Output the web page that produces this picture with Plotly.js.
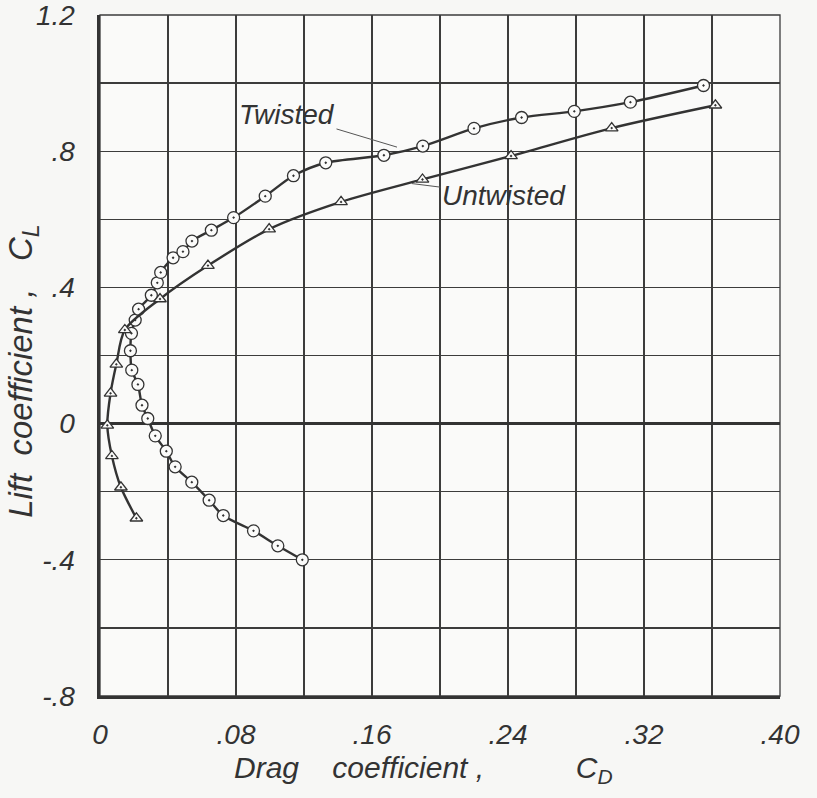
<!DOCTYPE html>
<html>
<head>
<meta charset="utf-8">
<script src="https://cdn.plot.ly/plotly-3.0.1.min.js"></script>
<style>
  html, body { margin: 0; padding: 0; background: #f7f7f5; }
  #chart { width: 817px; height: 798px; }
</style>
</head>
<body>
<div id="chart"></div>
<script>
// Lift versus drag polars for a twisted and an untwisted wing
const twistedCD = [0.119, 0.1046, 0.0903, 0.0725, 0.0642, 0.054, 0.0442, 0.039, 0.0325, 0.0281,
                   0.0247, 0.0223, 0.0187, 0.0179, 0.0185, 0.0207, 0.0227, 0.0302, 0.0337, 0.0357,
                   0.043, 0.0488, 0.0541, 0.0655, 0.0786, 0.0972, 0.1138, 0.1328, 0.167, 0.1899,
                   0.220, 0.248, 0.279, 0.312, 0.355];
const twistedCL = [-0.40, -0.359, -0.315, -0.270, -0.225, -0.172, -0.127, -0.081, -0.036, 0.015,
                   0.054, 0.115, 0.157, 0.214, 0.265, 0.304, 0.336, 0.377, 0.4135, 0.444,
                   0.487, 0.505, 0.536, 0.568, 0.605, 0.668, 0.728, 0.766, 0.788, 0.815,
                   0.867, 0.899, 0.917, 0.944, 0.993];

const untwistedCD = [0.0214, 0.0123, 0.007, 0.0043, 0.0062, 0.0096, 0.0146, 0.0353, 0.0635, 0.0995,
                     0.1418, 0.1897, 0.2418, 0.301, 0.362];
const untwistedCL = [-0.278, -0.187, -0.095, -0.005, 0.089, 0.174, 0.275, 0.366, 0.464, 0.571,
                     0.651, 0.717, 0.786, 0.868, 0.935];

// Grid every 0.04 in CD and 0.2 in CL; labels on every other line
const xTickVals = [0, 0.04, 0.08, 0.12, 0.16, 0.20, 0.24, 0.28, 0.32, 0.36, 0.40];
const xTickText = ['0', '', '.08', '', '.16', '', '.24', '', '.32', '', '.40'];
const yTickVals = [-0.8, -0.6, -0.4, -0.2, 0, 0.2, 0.4, 0.6, 0.8, 1.0, 1.2];
const yTickText = ['-.8', '', '-.4', '', '0', '', '.4', '', '.8', '', '1.2'];

const ink = '#333333';
const FONT = '"Liberation Sans", Arial, sans-serif';

const lineStyle = { color: ink, width: 2.4, shape: 'spline', smoothing: 0.8 };

const traces = [
  {
    x: twistedCD, y: twistedCL, type: 'scatter', mode: 'lines+markers', name: 'Twisted',
    line: lineStyle,
    marker: { symbol: 'circle-dot', size: 12, color: '#fbfbfa', line: { color: ink, width: 1.3 } }
  },
  {
    x: untwistedCD, y: untwistedCL, type: 'scatter', mode: 'lines+markers', name: 'Untwisted',
    line: lineStyle,
    marker: { symbol: 'triangle-up-dot', size: 11, color: '#fbfbfa', line: { color: ink, width: 1.3 } }
  }
];

const sp = n => '&nbsp;'.repeat(n);

const layout = {
  width: 817, height: 798,
  margin: { l: 100, r: 37, t: 15, b: 102 },
  paper_bgcolor: '#f7f7f5',
  plot_bgcolor: '#fafaf9',
  showlegend: false,
  font: { family: FONT, size: 28, color: ink, style: 'italic' },
  xaxis: {
    range: [0, 0.40], tickvals: xTickVals, ticktext: xTickText,
    showgrid: true, gridcolor: '#3c3c3c', gridwidth: 1.3,
    zeroline: false, showline: true, linecolor: ink, linewidth: 2.5,
    ticks: '', ticklabelstandoff: 12, ticklabeloverflow: 'allow',
    tickfont: { family: FONT, size: 28, color: ink, style: 'italic' }
  },
  yaxis: {
    range: [-0.8, 1.2], tickvals: yTickVals, ticktext: yTickText,
    showgrid: true, gridcolor: '#3c3c3c', gridwidth: 1.3,
    zeroline: true, zerolinecolor: ink, zerolinewidth: 3,
    showline: true, linecolor: ink, linewidth: 3.5,
    ticks: '', ticklabelstandoff: 16, ticklabeloverflow: 'allow',
    tickfont: { family: FONT, size: 28, color: ink, style: 'italic' }
  },
  shapes: [
    { type: 'rect', xref: 'paper', yref: 'paper', x0: 0, x1: 1, y0: 0, y1: 1,
      line: { color: '#3c3c3c', width: 1.3 }, layer: 'below' }
  ],
  annotations: [
    {
      x: 0.1747, y: 0.812, ax: 0.11, ay: 0.909, axref: 'x', ayref: 'y',
      text: 'Twisted', showarrow: true, arrowhead: 0, arrowwidth: 1, arrowcolor: '#555',
      standoff: 0, font: { family: FONT, size: 28, color: ink, style: 'italic' }
    },
    {
      x: 0.1834, y: 0.705, ax: 0.2376, ay: 0.671, axref: 'x', ayref: 'y',
      text: 'Untwisted', showarrow: true, arrowhead: 0, arrowwidth: 1, arrowcolor: '#555',
      standoff: 0, font: { family: FONT, size: 28, color: ink, style: 'italic' }
    },
    {
      xref: 'paper', yref: 'paper', x: 0.476, y: 0, yanchor: 'middle', yshift: -73,
      showarrow: false,
      text: 'Drag' + sp(4) + 'coefficient ,' + sp(11) + 'C<sub>D</sub>',
      font: { family: FONT, size: 30, color: ink, style: 'italic' }
    },
    {
      xref: 'paper', yref: 'paper', x: 0, xanchor: 'center', xshift: -77, y: 0.476,
      showarrow: false, textangle: -90,
      text: 'Lift' + sp(2) + 'coefficient ,' + sp(3) + 'C<sub>L</sub>',
      font: { family: FONT, size: 33, color: ink, style: 'italic' }
    }
  ]
};

Plotly.newPlot('chart', traces, layout, { displayModeBar: false, staticPlot: true });
</script>
</body>
</html>
